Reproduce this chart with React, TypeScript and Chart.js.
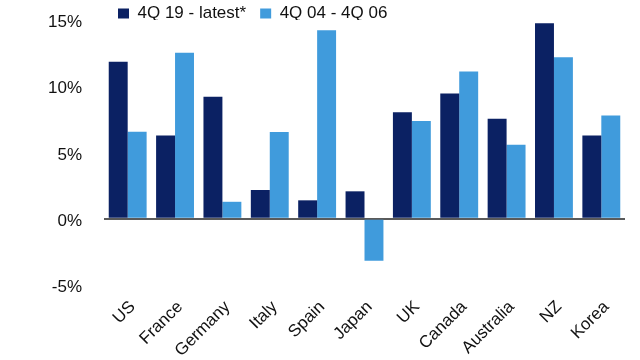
import React, { useEffect, useRef } from "react";
import { Chart, registerables } from "chart.js";

Chart.register(...registerables);

const categories = ["US", "France", "Germany", "Italy", "Spain", "Japan", "UK", "Canada", "Australia", "NZ", "Korea"];
const seriesNames = ["4Q 19 - latest*", "4Q 04 - 4Q 06"];
const recentGrowth = [11.85, 6.29, 9.21, 2.17, 1.39, 2.07, 8.03, 9.46, 7.55, 14.75, 6.29];
const pastGrowth = [6.57, 12.53, 1.28, 6.54, 14.22, -3.17, 7.37, 11.12, 5.58, 12.18, 7.8];
const yMin = -5;
const yMax = 15;
const yStep = 5;

const DARK = "#0b2163";
const LIGHT = "#409bdc";
const FONT = "'Liberation Sans', Arial, sans-serif";

export default function App() {
  const ref = useRef<HTMLCanvasElement | null>(null);

  useEffect(() => {
    if (!ref.current) return;
    const chart = new Chart(ref.current, {
      type: "bar",
      data: {
        labels: categories,
        datasets: [
          { label: seriesNames[0], data: recentGrowth, backgroundColor: DARK, borderWidth: 0 },
          { label: seriesNames[1], data: pastGrowth, backgroundColor: LIGHT, borderWidth: 0 },
        ],
      },
      options: {
        animation: false,
        responsive: true,
        maintainAspectRatio: false,
        datasets: { bar: { categoryPercentage: 0.8, barPercentage: 1.0 } },
        layout: { padding: { top: 11, left: 0, right: 15, bottom: 0 } },
        font: { family: FONT },
        plugins: {
          legend: {
            position: "top",
            align: "start",
            fullSize: false,
            maxHeight: 29,
            labels: {
              boxWidth: 11,
              boxHeight: 10,
              padding: 14,
              color: "#111",
              font: { family: FONT, size: 17 },
            },
          },
          tooltip: { enabled: false },
        },
        scales: {
          x: {
            grid: { display: false, drawTicks: false },
            border: { display: false },
            ticks: {
              color: "#111",
              font: { family: FONT, size: 17 },
              minRotation: 45,
              maxRotation: 45,
              autoSkip: false,
              padding: 12,
              labelOffset: 5,
            },
            afterFit: (scale: any) => {
              scale.height = 75;
            },
          },
          y: {
            min: yMin,
            max: yMax,
            border: { display: false },
            grid: {
              drawTicks: false,
              color: (ctx: any) => (ctx.tick && ctx.tick.value === 0 ? "#5a5a5a" : "rgba(0,0,0,0)"),
              lineWidth: (ctx: any) => (ctx.tick && ctx.tick.value === 0 ? 2 : 0),
            },
            ticks: {
              stepSize: yStep,
              color: "#111",
              font: { family: FONT, size: 17 },
              padding: 22,
              labelOffset: 2.5,
              callback: (v: any) => `${v}%`,
            },
            afterFit: (scale: any) => {
              scale.width = 104;
            },
          },
        },
      },
    });
    return () => chart.destroy();
  }, []);

  return (
    <div style={{ position: "absolute", left: 0, top: -20, width: 640, height: 380 }}>
      <canvas ref={ref} />
    </div>
  );
}
